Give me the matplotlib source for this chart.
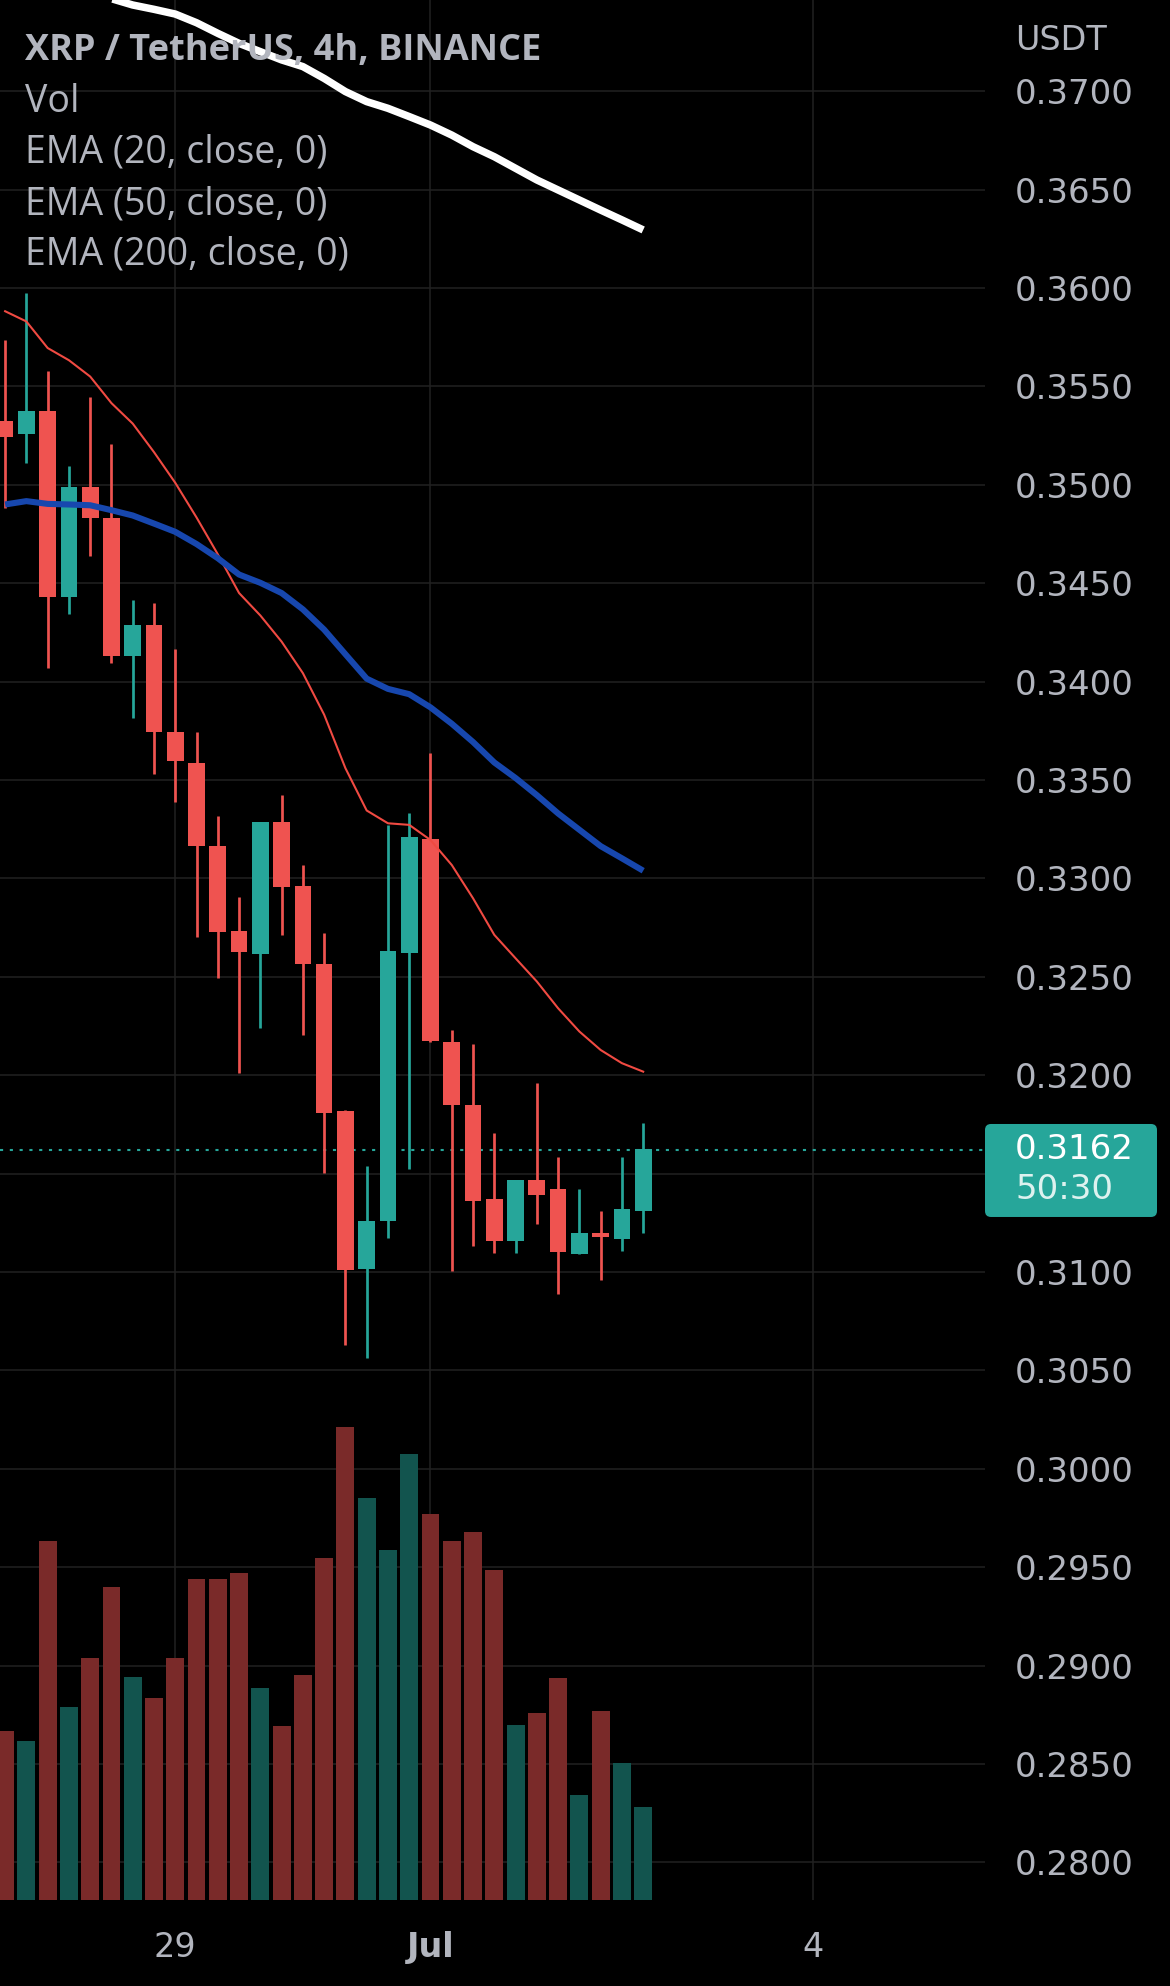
import numpy as np
import pandas as pd
import matplotlib
matplotlib.use("Agg")
import matplotlib.pyplot as plt
import matplotlib.transforms as mtransforms
from matplotlib.patches import FancyBboxPatch

# ---------------- data ----------------
dates = pd.date_range("2022-06-27 16:00", periods=31, freq="4h")

opens = [0.35324, 0.35257, 0.35373, 0.34432, 0.34989, 0.34833, 0.34132, 0.34288,
         0.33743, 0.33587, 0.33165, 0.32733, 0.32615, 0.33289, 0.32962, 0.32567,
         0.31820, 0.31017, 0.31260, 0.32619, 0.33200, 0.32168, 0.31848, 0.31371,
         0.31156, 0.31469, 0.31423, 0.31090, 0.31199, 0.31167, 0.31310]
highs = [0.35736, 0.35973, 0.35578, 0.35096, 0.35446, 0.35207, 0.34415, 0.34400,
         0.34166, 0.33743, 0.33318, 0.32906, 0.33289, 0.33425, 0.33067, 0.32724,
         0.31821, 0.31539, 0.33273, 0.33332, 0.33636, 0.32229, 0.32161, 0.31707,
         0.31469, 0.31961, 0.31584, 0.31423, 0.31312, 0.31582, 0.31757]
lows = [0.34884, 0.35109, 0.34067, 0.34342, 0.34640, 0.34096, 0.33817, 0.33531,
        0.33387, 0.32701, 0.32496, 0.32010, 0.32239, 0.32713, 0.32203, 0.31503,
        0.30631, 0.30561, 0.31174, 0.31521, 0.32168, 0.31003, 0.31131, 0.31094,
        0.31094, 0.31242, 0.30890, 0.31090, 0.30960, 0.31106, 0.31199]
closes = [0.35244, 0.35373, 0.34432, 0.34989, 0.34833, 0.34132, 0.34288, 0.33743,
          0.33594, 0.33165, 0.32727, 0.32625, 0.33289, 0.32955, 0.32567, 0.31807,
          0.31008, 0.31260, 0.32633, 0.33212, 0.32175, 0.31848, 0.31360, 0.31156,
          0.31469, 0.31389, 0.31101, 0.31199, 0.31180, 0.31321, 0.31623]
volumes = [4.99, 4.69, 10.61, 5.70, 7.15, 9.25, 6.60, 5.98, 7.15, 9.50, 9.50,
           9.68, 6.26, 5.16, 6.67, 10.13, 14.00, 11.90, 10.36, 13.18, 11.43,
           10.61, 10.89, 9.77, 5.18, 5.52, 6.58, 3.12, 5.60, 4.04, 2.76]

ema20 = [0.35882, 0.35830, 0.35695, 0.35633, 0.35550, 0.35415, 0.35311, 0.35166,
         0.35010, 0.34834, 0.34647, 0.34450, 0.34336, 0.34203, 0.34043, 0.33832,
         0.33560, 0.33345, 0.33280, 0.33272, 0.33195, 0.33068, 0.32899, 0.32713,
         0.32594, 0.32476, 0.32340, 0.32222, 0.32128, 0.32061, 0.32018]
ema50 = [0.34900, 0.34917, 0.34903, 0.34900, 0.34896, 0.34871, 0.34844, 0.34803,
         0.34761, 0.34699, 0.34627, 0.34544, 0.34502, 0.34450, 0.34367, 0.34264,
         0.34139, 0.34015, 0.33963, 0.33936, 0.33869, 0.33786, 0.33693, 0.33589,
         0.33510, 0.33423, 0.33330, 0.33247, 0.33164, 0.33102, 0.33039]
ema200 = [np.nan, np.nan, np.nan, np.nan, 0.37503, 0.37470, 0.37438, 0.37416,
          0.37392, 0.37348, 0.37294, 0.37243, 0.37201, 0.37159, 0.37125, 0.37065,
          0.36998, 0.36947, 0.36913, 0.36871, 0.36828, 0.36777, 0.36718, 0.36667,
          0.36608, 0.36549, 0.36498, 0.36447, 0.36396, 0.36346, 0.36295]

price_ticks = [0.2800, 0.2850, 0.2900, 0.2950, 0.3000, 0.3050, 0.3100, 0.3150,
               0.3200, 0.3250, 0.3300, 0.3350, 0.3400, 0.3450, 0.3500, 0.3550,
               0.3600, 0.3650, 0.3700]
hidden_tick = 0.3150  # covered by the last-price label in the reference
time_tick_dates = ["2022-06-29", "2022-07-01", "2022-07-04"]
time_tick_labels = ["29", "Jul", "4"]
last_price = 0.3162
countdown = "50:30"
currency = "USDT"
legend_title = "XRP / TetherUS, 4h, BINANCE"
legend_lines = ["Vol", "EMA (20, close, 0)", "EMA (50, close, 0)", "EMA (200, close, 0)"]

# ---------------- style ----------------
BG = "#000000"
UP = "#26A69A"
DOWN = "#EF5350"
VOL_UP = "#12544E"
VOL_DOWN = "#7A2A29"
GRID = "#212121"
TXT = "#B2B5BE"

W, H, DPI = 1170, 1986, 100
fig = plt.figure(figsize=(W / DPI, H / DPI), dpi=DPI, facecolor=BG)
rect = [0, 86 / H, 985 / W, 1900 / H]
ax = fig.add_axes(rect)
axv = ax.twinx()
ax.set_zorder(axv.get_zorder() + 1)
ax.patch.set_visible(False)
axv.set_facecolor(BG)

x = np.arange(len(dates))
o = np.array(opens); c = np.array(closes)
hi = np.array(highs); lo = np.array(lows)
up = c >= o

ax.set_xlim(-0.24, 46.07)
ax.set_ylim(0.278089, 0.374634)

# grid (behind volume)
blend = mtransforms.blended_transform_factory(axv.transAxes, ax.transData)
axv.hlines(price_ticks, 0, 1, transform=blend, colors=GRID, linewidth=1.1, zorder=0)
tick_pos = [(pd.Timestamp(d) - dates[0]) / pd.Timedelta("4h") for d in time_tick_dates]
for tp in tick_pos:
    axv.axvline(tp, color=GRID, linewidth=1.1, zorder=0)

# volume
axv.bar(x, volumes, width=0.84, color=[VOL_UP if u else VOL_DOWN for u in up],
        zorder=1, linewidth=0)
axv.set_ylim(0, 56.2)

# candles
cols = [UP if u else DOWN for u in up]
ax.vlines(x, lo, hi, colors=cols, linewidth=1.95, zorder=3)
ax.bar(x, np.abs(c - o), bottom=np.minimum(o, c), width=0.785, color=cols,
       linewidth=0, zorder=4)

# EMAs
ax.plot(x, ema20, color="#F04A42", linewidth=1.5, zorder=5)
ax.plot(x, ema50, color="#1747AE", linewidth=4.4, zorder=5, solid_capstyle="butt")
ax.plot(x, ema200, color="#FFFFFF", linewidth=5.4, zorder=5, solid_capstyle="butt")

# last price dotted line
ax.axhline(last_price, color=UP, linewidth=1.5, linestyle=(0, (1.5, 3.2)), zorder=2)

# axes cosmetics
for a in (ax, axv):
    for s in a.spines.values():
        s.set_visible(False)
axv.tick_params(right=False, labelright=False, left=False, labelleft=False,
                bottom=False, labelbottom=False)
ax.yaxis.tick_right()
ax.set_yticks(price_ticks, ["" if abs(p - hidden_tick) < 1e-9 else f"{p:.4f}"
                            for p in price_ticks])
ax.tick_params(axis="y", length=0, pad=21.5, labelsize=24.5, labelcolor=TXT)
ax.set_xticks(tick_pos, time_tick_labels)
ax.tick_params(axis="x", length=0, pad=22, labelsize=24, labelcolor=TXT)
ax.get_xticklabels()[1].set_fontweight("bold")

# currency label
fig.text(1015 / W, 1 - 41 / H, currency, color=TXT, fontsize=24, va="center", ha="left")

# last price box
fig.canvas.draw()
ypix = ax.transData.transform((0, last_price))[1]
box = FancyBboxPatch((985, ypix - 67), 172, 93,
                     boxstyle="round,pad=0,rounding_size=6",
                     facecolor=UP, edgecolor="none",
                     transform=mtransforms.IdentityTransform(), zorder=5)
fig.add_artist(box)
fig.text(1015, ypix, f"{last_price:.4f}", color="#FFFFFF", fontsize=24.5,
         va="center", ha="left", transform=mtransforms.IdentityTransform(), zorder=6)
fig.text(1015, ypix - 40, countdown, color="#DDF2EF", fontsize=24.5,
         va="center", ha="left", transform=mtransforms.IdentityTransform(), zorder=6)

# legend texts
fam = ["Open Sans", "DejaVu Sans"]
fig.text(25 / W, 1 - 51 / H, legend_title, color=TXT, fontsize=26, fontweight="bold",
         family=fam, va="center", ha="left", zorder=7)
for i, t in enumerate(legend_lines):
    fig.text(25 / W, 1 - (102 + 51 * i) / H, t, color=TXT, fontsize=27,
             family=fam, va="center", ha="left", zorder=7)

fig.savefig("out.png", dpi=DPI, facecolor=BG)
